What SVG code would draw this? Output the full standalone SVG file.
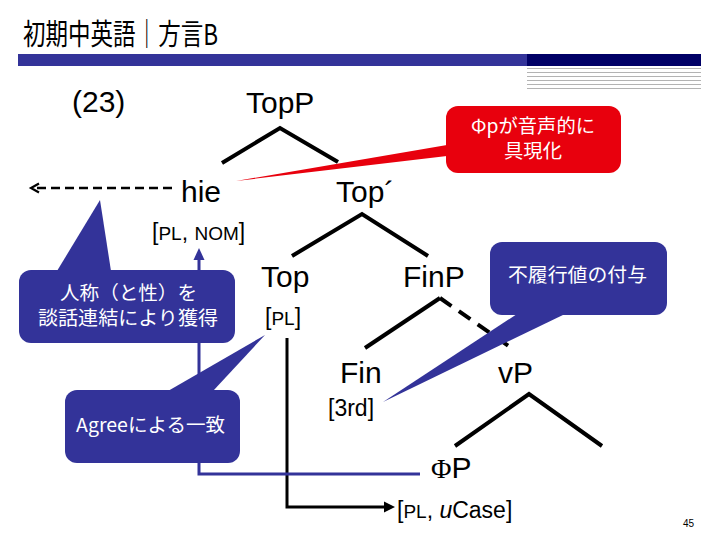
<svg xmlns="http://www.w3.org/2000/svg" width="720" height="540" viewBox="0 0 720 540">
<defs>
<style>
.node{font-family:"Liberation Sans",Arial,sans-serif;font-size:30px;fill:#000}
.feat{font-family:"Liberation Sans",Arial,sans-serif;font-size:23px;fill:#000}
.sc{font-size:19px}
.br{fill:none;stroke:#000;stroke-width:4;stroke-linecap:butt}
.co{font-family:"Noto Sans CJK JP","Liberation Sans",sans-serif;font-size:19px;fill:#fff;text-anchor:middle}
.blue{fill:#333399}
.red{fill:#e8000d}
.gl{stroke:#b3b3b3;stroke-width:1}
</style>
</defs>
<rect width="720" height="540" fill="#fff"/>

<!-- title -->
<text x="23" y="45" font-family="'Noto Sans CJK JP','Liberation Sans',sans-serif" font-size="29" textLength="195" lengthAdjust="spacingAndGlyphs" fill="#000">初期中英語｜方言B</text>
<rect x="18" y="54" width="509" height="12" fill="#333399"/>
<rect x="527" y="54" width="174" height="12" fill="#000066"/>
<g class="gl">
<line x1="527" y1="68.5" x2="701" y2="68.5"/>
<line x1="527" y1="72.5" x2="701" y2="72.5"/>
<line x1="527" y1="76.5" x2="701" y2="76.5"/>
<line x1="527" y1="80.5" x2="701" y2="80.5"/>
<line x1="527" y1="84.5" x2="701" y2="84.5"/>
<line x1="527" y1="88.5" x2="701" y2="88.5"/>
</g>

<text x="72" y="112" class="node">(23)</text>

<!-- connectors -->
<g id="connectors">
<polyline class="br" points="222,163 280,128 338,162"/>
<polyline class="br" points="292,256 362,214 428,256"/>
<line class="br" x1="365" y1="348" x2="440" y2="298"/>
<line class="br" x1="440" y1="298" x2="513" y2="349" stroke-dasharray="14 9"/>
<polyline class="br" points="455,446 529,394 602,446"/>
<line x1="172" y1="188" x2="33" y2="188" stroke="#000" stroke-width="2.5" stroke-dasharray="9 5"/>
<path d="M39,183.5 L31,188 L39,192.5" fill="none" stroke="#000" stroke-width="2.2"/>
<polyline points="287,338 287,507 385,507" fill="none" stroke="#000" stroke-width="3"/>
<polygon points="395,507 384,501.5 384,512.5" fill="#000"/>
<polyline points="420,474 199,474 199,258" fill="none" stroke="#333399" stroke-width="3"/>
<polygon points="199,248 193.5,260 204.5,260" fill="#333399"/>
</g>

<!-- nodes -->
<g id="n-topP"><text x="246" y="113" class="node">TopP</text></g>
<g id="n-hie">
<text x="181" y="202" class="node">hie</text>
<text x="152" y="240" class="feat">[<tspan class="sc">PL</tspan>, <tspan class="sc">NOM</tspan>]</text>
</g>
<g id="n-topbar"><text x="336" y="202" class="node">Top´</text></g>
<g id="n-top">
<text x="261" y="287" class="node">Top</text>
<text x="265" y="325" class="feat">[<tspan class="sc">PL</tspan>]</text>
</g>
<g id="n-finP"><text x="403" y="287" class="node">FinP</text></g>
<g id="n-fin">
<text x="340" y="383" class="node">Fin</text>
<text x="328" y="416" class="feat">[3rd]</text>
</g>
<g id="n-vP"><text x="498" y="383" class="node">vP</text></g>
<g id="n-phiP">
<text x="431" y="478" class="node"><tspan font-family="'Liberation Serif','Times New Roman',serif" font-size="28">Φ</tspan>P</text>
<text x="397" y="518" class="feat" font-size="24">[<tspan class="sc">PL</tspan>, <tspan font-style="italic">u</tspan>Case]</text>
</g>

<!-- callouts -->
<g id="c-red">
<polygon class="red" points="447,145 236,181 447,156"/>
<rect class="red" x="446" y="106" width="175" height="67" rx="12"/>
<text x="533" y="133" class="co" font-size="18" textLength="124" lengthAdjust="spacingAndGlyphs">Φpが音声的に</text>
<text x="533" y="158" class="co" font-size="18" textLength="58" lengthAdjust="spacingAndGlyphs">具現化</text>
</g>
<g id="c-person">
<polygon class="blue" points="57,271 100,200 111,271"/>
<rect class="blue" x="19" y="270" width="216" height="73" rx="12"/>
<text x="128.5" y="300" class="co" textLength="137" lengthAdjust="spacingAndGlyphs">人称（と性）を</text>
<text x="128" y="325" class="co" textLength="180" lengthAdjust="spacingAndGlyphs">談話連結により獲得</text>
</g>
<g id="c-agree">
<polygon class="blue" points="168,391 265,335 213,391"/>
<rect class="blue" x="65" y="390" width="175" height="73" rx="12"/>
<text x="150.5" y="432" class="co" textLength="149" lengthAdjust="spacingAndGlyphs">Agreeによる一致</text>
</g>
<g id="c-default">
<polygon class="blue" points="517,314 383,402 565,314"/>
<rect class="blue" x="490" y="242" width="177" height="73" rx="12"/>
<text x="577.5" y="282" class="co" textLength="139" lengthAdjust="spacingAndGlyphs">不履行値の付与</text>
</g>

<text x="683" y="527" font-family="'Liberation Sans',Arial,sans-serif" font-size="10" fill="#000">45</text>
</svg>
